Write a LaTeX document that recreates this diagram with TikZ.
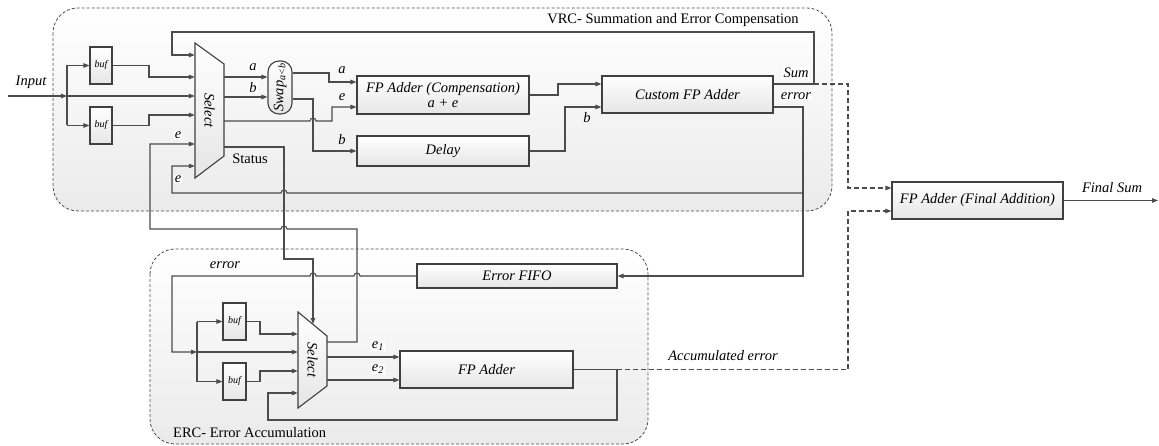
\documentclass[tikz,border=0pt]{standalone}
\usepackage{fontspec}
\usepackage{graphicx}
\setmainfont{Liberation Serif}
\usetikzlibrary{arrows.meta}

\tikzset{
  wire/.style={draw=black!70, line width=1.1pt},
  arr/.style={wire, -{Triangle[length=6pt,width=4.5pt]}},
  dwire/.style={wire, dash pattern=on 5pt off 3pt},
  darr/.style={dwire, -{Triangle[length=6pt,width=4.5pt]}},
  block/.style={draw=black!75, line width=1.1pt, top color=white, bottom color=black!10,
    inner sep=0pt, align=center, font=\fontsize{14.5}{15.5}\selectfont\itshape},
  bufbox/.style={block, minimum width=22pt, minimum height=37pt, font=\fontsize{10}{12}\selectfont\itshape},
  muxshape/.style={draw=black!75, line width=1.1pt, top color=white, bottom color=black!10},
  region/.style={draw=black!70, dash pattern=on 3pt off 2pt, line width=0.8pt,
    rounded corners=25pt, top color=white, bottom color=black!8},
  lbl/.style={font=\fontsize{14.5}{16}\selectfont\itshape, inner sep=1pt},
  wlbl/.style={lbl, fill=white},
  title/.style={font=\fontsize{14.5}{16}\selectfont, inner sep=1pt}
}

\begin{document}
\begin{tikzpicture}[x=1pt,y=-1pt]
    \useasboundingbox (0,0) rectangle (1159,446);

    % Regions
    \path[region] (53,8) rectangle (832,211);
    \path[region] (150,249) rectangle (648,444);
    \node[title] (vrc) at (673,20) {VRC- Summation and Error Compensation};
    \node[title, anchor=west] (erc) at (172,433) {ERC- Error Accumulation};

    % VRC blocks
    \node[bufbox] (buf1) at (101,65.5) {buf};
    \node[bufbox] (buf2) at (101,125.5) {buf};
    \path[muxshape] (195,43) -- (224,64) -- (224,156) -- (195,178) -- cycle;
    \node[lbl, minimum width=29pt, minimum height=135pt, inner sep=0pt] (vsel) at (209.5,110.5) {\rotatebox{-90}{Select}};
    \node[block, minimum width=24pt, minimum height=53pt, rounded corners=11pt] (swap) at (280,87.5) {\rotatebox{90}{Swap\textsubscript{a<b}}};
    \node[block, minimum width=172pt, minimum height=38pt] (compadd) at (443,95) {FP Adder (Compensation)\\a + e};
    \node[block, minimum width=172pt, minimum height=30pt] (delay) at (443,151) {Delay};
    \node[block, minimum width=171pt, minimum height=37pt] (cadd) at (687.5,94.5) {Custom FP Adder};

    % ERC blocks
    \node[block, minimum width=200pt, minimum height=24pt] (fifo) at (517,276) {Error FIFO};
    \node[bufbox, minimum width=23pt] (ebuf1) at (234.5,321.5) {buf};
    \node[bufbox, minimum width=23pt] (ebuf2) at (234.5,381.5) {buf};
    \path[muxshape] (298,312) -- (327,336) -- (327,386) -- (298,408) -- cycle;
    \node[lbl, minimum width=29pt, minimum height=96pt, inner sep=0pt] (esel) at (312.5,360) {\rotatebox{-90}{Select}};
    \node[block, minimum width=173pt, minimum height=37pt] (eadd) at (486.5,369.5) {FP Adder};

    % Final adder
    \node[block, minimum width=171pt, minimum height=37pt] (finadd) at (977.5,200.5) {FP Adder (Final Addition)};

    % Input and buffers
    \draw[arr] (8,96) -- (67,96) coordinate (vsplit);
    \node[lbl] at (31,82) {Input};
    \draw[arr] (vsplit) -- (vsel.west |- vsplit);
    \draw[wire] (vsplit |- buf1) -- (vsplit |- buf2);
    \draw[arr] (vsplit |- buf1) -- (buf1.west);
    \draw[arr] (vsplit |- buf2) -- (buf2.west);
    \draw[arr] (buf1.east) -- (149,65.5) |- (vsel.west |- 0,77);
    \draw[arr] (buf2.east) -- (149,125.5) |- (vsel.west |- 0,115);

    % Sum feedback
    \draw[arr] (cadd.east |- 0,84) -- (814,84) |- (172,32) |- (vsel.west |- 0,55);
    \draw[darr] (814,84) -- (848,84) |- (finadd.west |- 0,188);
    \node[wlbl] at (796,73) {Sum};

    % Error output
    \draw[arr] (cadd.east |- 0,107) -- (803,107) |- (fifo.east);
    \draw[arr] (803,193) -- (287,193) arc[start angle=0,end angle=-180,radius=3] -- (172,193) |- (vsel.west |- 0,166);
    \node[wlbl] at (796,96) {error};
    \node[wlbl] at (178,179) {e};

    % Swap and compensation
    \draw[arr] (vsel.east |- 0,77) -- (swap.west |- 0,77);
    \draw[arr] (vsel.east |- 0,97) -- (swap.west |- 0,97);
    \node[wlbl] at (253,67) {a};
    \node[wlbl] at (253,88) {b};
    \draw[arr] (swap.east |- 0,73) -- (329,73) |- (compadd.west |- 0,82);
    \draw[arr] (swap.east |- 0,99) -- (313,99) |- (delay.west |- 0,151);
    \draw[arr] (vsel.east |- 0,121) -- (310,121) arc[start angle=180,end angle=360,radius=3] -- (332,121) |- (compadd.west |- 0,107);
    \node[lbl] at (342,70) {a};
    \node[lbl] at (342,97) {e};
    \node[lbl] at (342,140) {b};
    \draw[arr] (compadd.east) -- (558,95) |- (cadd.west |- 0,84);
    \draw[arr] (delay.east) -- (565,151) |- (cadd.west |- 0,107);
    \node[lbl] at (587,118) {b};

    % Status
    \draw[arr] (vsel.east |- 0,147) -- (284,147) -- (284,259) -| (313,324);
    \node[title] at (250,159) {Status};

    % ERC error feedback to VRC
    \draw[arr] (esel.east |- 0,342) -- (357,342) |- (287,229) arc[start angle=0,end angle=-180,radius=3] -- (150,229) |- (vsel.west |- 0,144);
    \node[wlbl] at (178,135) {e};

    % Error FIFO to ERC select
    \draw[arr] (fifo.west) -- (360,276) arc[start angle=0,end angle=-180,radius=3] -- (316,276) arc[start angle=0,end angle=-180,radius=3] -- (172,276) |- (197,352) coordinate (esplit);
    \node[lbl] at (225,265) {error};
    \draw[arr] (esplit) -- (esel.west |- esplit);
    \draw[wire] (esplit |- ebuf1) -- (esplit |- ebuf2);
    \draw[arr] (esplit |- ebuf1) -- (ebuf1.west);
    \draw[arr] (esplit |- ebuf2) -- (ebuf2.west);
    \draw[arr] (ebuf1.east) -- (260,321.5) |- (esel.west |- 0,334);
    \draw[arr] (ebuf2.east) -- (260,381.5) |- (esel.west |- 0,371);

    % Accumulation
    \draw[arr] (esel.east |- 0,357) -- (eadd.west |- 0,357);
    \draw[arr] (esel.east |- 0,380) -- (eadd.west |- 0,380);
    \node[wlbl] at (378,346) {e\textsubscript{1}};
    \node[wlbl] at (378,369) {e\textsubscript{2}};
    \draw[arr] (eadd.east) -- (617,369.5) |- (268,420) |- (esel.west |- 0,393);
    \draw[darr] (617,369.5) -- (848,369.5) |- (finadd.west |- 0,211);
    \node[lbl] at (723,356) {Accumulated error};

    % Final sum
    \draw[arr] (finadd.east) -- (1158,200.5);
    \node[lbl] at (1112,188) {Final Sum};
\end{tikzpicture}
\end{document}
